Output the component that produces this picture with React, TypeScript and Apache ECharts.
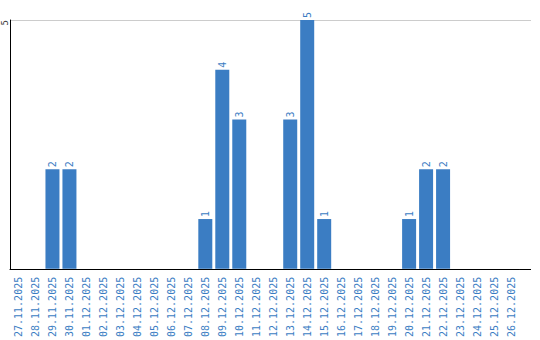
import React, { useEffect, useRef } from "react";
import * as echarts from "echarts";

const categories: string[] = [
  "27.11.2025", "28.11.2025", "29.11.2025", "30.11.2025", "01.12.2025", "02.12.2025",
  "03.12.2025", "04.12.2025", "05.12.2025", "06.12.2025", "07.12.2025", "08.12.2025",
  "09.12.2025", "10.12.2025", "11.12.2025", "12.12.2025", "13.12.2025", "14.12.2025",
  "15.12.2025", "16.12.2025", "17.12.2025", "18.12.2025", "19.12.2025", "20.12.2025",
  "21.12.2025", "22.12.2025", "23.12.2025", "24.12.2025", "25.12.2025", "26.12.2025",
];
const values: number[] = [
  0, 0, 2, 2, 0, 0, 0, 0, 0, 0, 0, 1, 4, 3, 0, 0, 3, 5, 1, 0, 0, 0, 0, 1, 2, 2, 0, 0, 0, 0,
];

const BLUE = "#3b7dc3";
const GRID_LEFT = 9.5;
const GRID_RIGHT = 20.5;
const GRID_TOP = 20;
const GRID_BOTTOM = 70;
const AXIS_END = 531; // axis & grid lines run a little past the last category

export default function App() {
  const ref = useRef<HTMLDivElement>(null);
  useEffect(() => {
    if (!ref.current) return;
    const chart = echarts.init(ref.current, undefined, { renderer: "svg" });
    const W = 540;
    const H = 340;
    const gridRightX = W - GRID_RIGHT - 1;
    chart.setOption({
      animation: false,
      grid: { left: GRID_LEFT, right: GRID_RIGHT, top: GRID_TOP, bottom: GRID_BOTTOM, containLabel: false },
      xAxis: {
        type: "category",
        data: categories,
        axisLine: { lineStyle: { color: "#000", width: 1 } },
        axisTick: { show: false },
        axisLabel: {
          rotate: 90,
          interval: 0,
          color: BLUE,
          fontFamily: "DejaVu Sans Mono",
          fontSize: 10,
          margin: 8,
        },
      },
      yAxis: {
        type: "value",
        min: 0,
        max: 5,
        interval: 5,
        axisLine: { show: true, lineStyle: { color: "#000", width: 1 } },
        axisTick: { show: false },
        splitLine: { lineStyle: { color: "#cccccc", width: 1 } },
        axisLabel: {
          rotate: 90,
          align: "right",
          verticalAlign: "bottom",
          color: "#333",
          fontFamily: "DejaVu Sans Mono",
          fontSize: 9,
          margin: 1,
          formatter: (v: number) => (v === 0 ? "" : String(v)),
        },
      },
      graphic: [
        {
          type: "line",
          shape: { x1: gridRightX, y1: H - GRID_BOTTOM - 0.5, x2: AXIS_END, y2: H - GRID_BOTTOM - 0.5 },
          style: { stroke: "#000", lineWidth: 1 },
          silent: true,
        },
        {
          type: "line",
          shape: { x1: gridRightX, y1: GRID_TOP + 0.5, x2: AXIS_END, y2: GRID_TOP + 0.5 },
          style: { stroke: "#cccccc", lineWidth: 1 },
          silent: true,
        },
      ],
      series: [
        {
          type: "bar",
          data: values.map((v) => (v === 0 ? null : v)),
          barWidth: 14,
          itemStyle: { color: BLUE },
          label: {
            show: true,
            position: "top",
            rotate: 90,
            align: "left",
            verticalAlign: "middle",
            distance: 2,
            color: BLUE,
            fontFamily: "DejaVu Sans Mono",
            fontSize: 10,
          },
        },
      ],
    });
    return () => chart.dispose();
  }, []);
  return <div ref={ref} style={{ width: 540, height: 340, position: "absolute", left: 0, top: 0 }} />;
}
